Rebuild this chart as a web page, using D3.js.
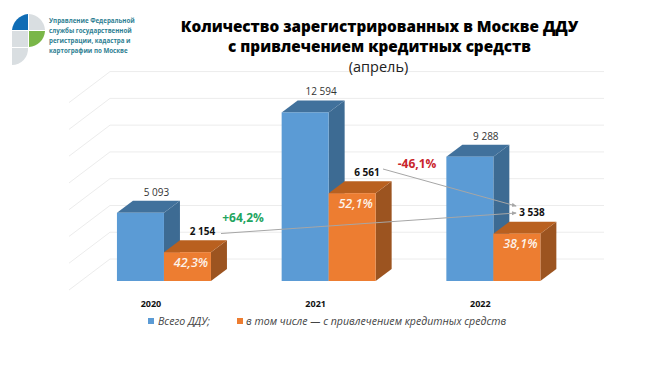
<!DOCTYPE html>
<html>
<head>
<meta charset="utf-8">
<script src="https://cdnjs.cloudflare.com/ajax/libs/d3/7.8.5/d3.min.js"></script>
<style>
  html, body { margin: 0; padding: 0; background: #fff; }
  svg { display: block; }
  text { font-family: "Open Sans", sans-serif; }
</style>
</head>
<body>
<div id="chart"></div>
<script>
let years = ['2020', '2021', '2022'];
let totalValues = [5093, 12594, 9288];
let creditValues = [2154, 6561, 3538];
let totalLabels = ['5 093', '12 594', '9 288'];
let creditLabels = ['2 154', '6 561', '3 538'];
let shareLabels = ['42,3%', '52,1%', '38,1%'];
let gridTicks = [0, 2000, 4000, 6000, 8000, 10000, 12000, 14000];

let width = 650;
let height = 367;

let svg = d3.select('#chart')
  .append('svg')
  .attr('width', width)
  .attr('height', height);

let xScale = d3.scaleBand()
  .domain(years)
  .range([81.6, 575.7])
  .paddingInner(0)
  .paddingOuter(0);

let yScale = d3.scaleLinear()
  .domain([0, 14000])
  .range([281, 93.6]);

let barWidth = 47;
let depth = { x: 16, y: -12 };

// floor and back wall lines
let gridBack = { left: 110, right: 604, y: -22 };
let grid = svg.append('g');
grid.selectAll('.wall')
  .data(gridTicks)
  .enter()
  .append('path')
  .attr('d', d => {
    let y = yScale(d) + gridBack.y;
    return 'M69,' + (y + 31) + 'L' + gridBack.left + ',' + y + 'L' + gridBack.right + ',' + y;
  })
  .attr('fill', 'none')
  .attr('stroke', '#ececec')
  .attr('stroke-width', 1);

function bar3d(g, x, value, colors) {
  let top = yScale(value);
  let base = yScale(0);
  let w = barWidth;
  // side
  g.append('path')
    .attr('d', 'M' + (x + w) + ',' + top + 'l' + depth.x + ',' + depth.y + 'V' + (base + depth.y) + 'L' + (x + w) + ',' + base + 'Z')
    .attr('fill', colors.side);
  // top
  g.append('path')
    .attr('d', 'M' + x + ',' + top + 'l' + depth.x + ',' + depth.y + 'h' + w + 'l' + (-depth.x) + ',' + (-depth.y) + 'Z')
    .attr('fill', colors.top);
  // front
  g.append('rect')
    .attr('x', x)
    .attr('y', top)
    .attr('width', w)
    .attr('height', base - top)
    .attr('fill', colors.front);
}

let blue = { front: '#5b9bd5', side: '#3d6b93', top: '#41719c' };
let orange = { front: '#ed7d31', side: '#9c5420', top: '#b9601f' };

years.forEach((year, i) => {
  let g = svg.append('g');
  let center = xScale(year) + xScale.bandwidth() / 2;
  bar3d(g, center - barWidth, totalValues[i], blue);
  bar3d(g, center, creditValues[i], orange);

  g.append('text')
    .attr('x', center - 7.5)
    .attr('y', yScale(totalValues[i]) + depth.y - 5)
    .attr('text-anchor', 'middle')
    .attr('font-size', 10)
    .attr('fill', '#333')
    .text(totalLabels[i]);

  g.append('text')
    .attr('x', center + 27)
    .attr('y', yScale(creditValues[i]) + 14.5)
    .attr('text-anchor', 'middle')
    .attr('font-size', 12.5)
    .attr('font-weight', 600)
    .attr('font-style', 'italic')
    .attr('fill', '#fdf3ea')
    .text(shareLabels[i]);

  g.append('text')
    .attr('x', center - 13)
    .attr('y', 307)
    .attr('text-anchor', 'middle')
    .attr('font-size', 9)
    .attr('font-weight', 700)
    .attr('fill', '#111')
    .text(year);
});

// connectors between the credit values
svg.append('defs').append('marker')
  .attr('id', 'arrow')
  .attr('viewBox', '0 0 6 6')
  .attr('refX', 5)
  .attr('refY', 3)
  .attr('markerWidth', 5)
  .attr('markerHeight', 5)
  .attr('orient', 'auto')
  .append('path')
  .attr('d', 'M0,0.5L6,3L0,5.5Z')
  .attr('fill', '#a6a6a6');

let connectors = [
  [221, 233.5, 516, 213],
  [383, 169, 516, 206]
];
svg.selectAll('.connector')
  .data(connectors)
  .enter()
  .append('line')
  .attr('x1', d => d[0])
  .attr('y1', d => d[1])
  .attr('x2', d => d[2])
  .attr('y2', d => d[3])
  .attr('stroke', '#a6a6a6')
  .attr('stroke-width', 1)
  .attr('marker-end', 'url(#arrow)');

let creditLabelPos = [[202.5, 234.5], [367, 176], [532, 215.5]];
creditLabels.forEach((label, i) => {
  svg.append('text')
    .attr('x', creditLabelPos[i][0])
    .attr('y', creditLabelPos[i][1])
    .attr('text-anchor', 'middle')
    .attr('font-size', 10)
    .attr('font-weight', 700)
    .attr('fill', '#111')
    .text(label);
});

svg.append('text')
  .attr('x', 243).attr('y', 222)
  .attr('text-anchor', 'middle')
  .attr('font-size', 12)
  .attr('font-weight', 700)
  .attr('fill', '#1fa55f')
  .text('+64,2%');

svg.append('text')
  .attr('x', 417).attr('y', 168)
  .attr('text-anchor', 'middle')
  .attr('font-size', 12)
  .attr('font-weight', 700)
  .attr('fill', '#c9252c')
  .text('-46,1%');

// title
svg.append('text')
  .attr('x', 379.5).attr('y', 32)
  .attr('text-anchor', 'middle')
  .attr('font-size', 15.3)
  .attr('font-weight', 800)
  .attr('fill', '#000')
  .text('Количество зарегистрированных в Москве ДДУ');
svg.append('text')
  .attr('x', 379.5).attr('y', 52)
  .attr('text-anchor', 'middle')
  .attr('font-size', 15.3)
  .attr('font-weight', 800)
  .attr('fill', '#000')
  .text('с привлечением кредитных средств');
svg.append('text')
  .attr('x', 378.5).attr('y', 72)
  .attr('text-anchor', 'middle')
  .attr('font-size', 14.5)
  .attr('fill', '#222')
  .text('(апрель)');

// legend
svg.append('rect').attr('x', 148).attr('y', 318).attr('width', 6).attr('height', 6).attr('fill', '#5b9bd5');
svg.append('text').attr('x', 158).attr('y', 325)
  .attr('font-size', 10.6).attr('font-style', 'italic').attr('fill', '#444')
  .text('Всего ДДУ;');
svg.append('rect').attr('x', 237).attr('y', 318).attr('width', 6).attr('height', 6).attr('fill', '#ed7d31');
svg.append('text').attr('x', 246).attr('y', 325)
  .attr('font-size', 10.6).attr('font-style', 'italic').attr('fill', '#444')
  .text('в том числе — с привлечением кредитных средств');

// logo
let logo = svg.append('g');
logo.append('path').attr('d', 'M12,30 A18,18 0 0 1 28,14 V30 Z').attr('fill', '#0f6cb5');
logo.append('path').attr('d', 'M29,14 A17,17 0 0 1 45,30 H29 Z').attr('fill', '#d9dee1');
logo.append('path').attr('d', 'M12,31 H28 V47 H12 Z').attr('fill', '#d9dee1');
logo.append('path').attr('d', 'M29,31 H45 A17,17 0 0 1 29,47 Z').attr('fill', '#7ab648');
logo.append('path').attr('d', 'M12,48 H28 A16,16 0 0 1 12,65 Z').attr('fill', '#d9dee1');

let logoLines = ['Управление Федеральной', 'службы государственной', 'регистрации, кадастра и', 'картографии по Москве'];
logoLines.forEach((line, i) => {
  logo.append('text')
    .attr('x', 49)
    .attr('y', 23 + i * 10)
    .attr('font-size', 6.2)
    .attr('font-weight', 700)
    .attr('fill', '#2f7f93')
    .text(line);
});
</script>
</body>
</html>
